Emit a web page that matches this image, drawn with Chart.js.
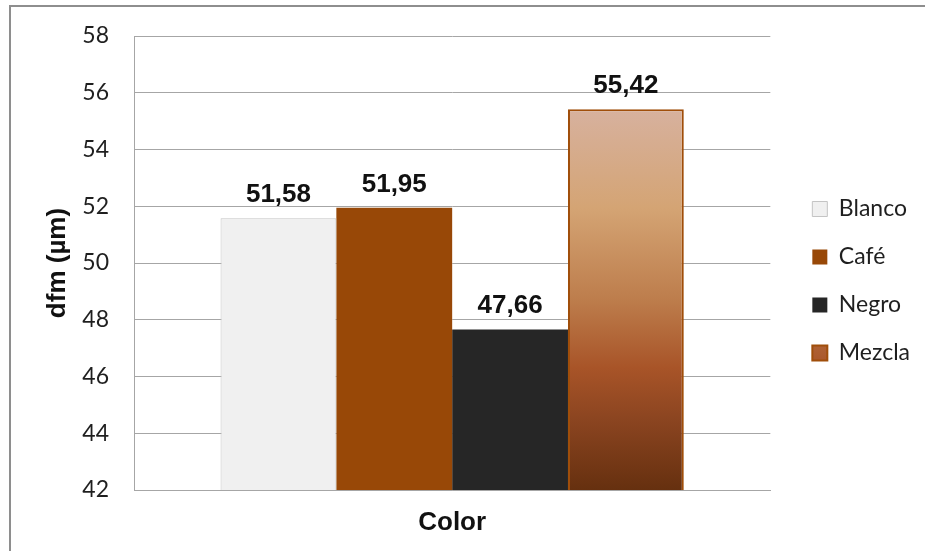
<!DOCTYPE html>
<html lang="es">
<head>
<meta charset="utf-8">
<title>dfm por color</title>
<script src="https://cdn.jsdelivr.net/npm/chart.js@4.4.1/dist/chart.umd.min.js"></script>
<style>
  html, body { margin: 0; padding: 0; background: #fff; overflow: hidden; }
  #wrap { position: relative; width: 925px; height: 551px; }
  #frame {
    position: absolute; left: 9px; top: 5px; width: 1000px; height: 700px;
    border-left: 2px solid #8e8e8e; border-top: 2px solid #8e8e8e;
    pointer-events: none;
  }
</style>
</head>
<body>
<div id="wrap">
  <canvas id="chart"></canvas>
  <div id="frame"></div>
</div>
<script>
// Datos
const categories = ["Color"];
const seriesNames = ["Blanco", "Café", "Negro", "Mezcla"];
const seriesValues = [51.58, 51.95, 47.66, 55.42];
const yTicks = [42, 44, 46, 48, 50, 52, 54, 56, 58];

const gridColor = "#a6a6a6";
const textColor = "#1f1f1f";

// Degradado de la barra "Mezcla" (de arriba hacia abajo)
const mezclaStops = [
  [0, "#d7b19e"],
  [0.26, "#d4a474"],
  [0.5, "#bd7d4c"],
  [0.68, "#a85428"],
  [0.82, "#8a4420"],
  [1, "#66300f"],
];

function mezclaFill(context) {
  const chart = context.chart;
  const area = chart.chartArea;
  if (!area || !chart.scales.y) return "#b8703c";
  const top = chart.scales.y.getPixelForValue(seriesValues[3]);
  const g = chart.ctx.createLinearGradient(0, top, 0, area.bottom);
  mezclaStops.forEach((s) => g.addColorStop(s[0], s[1]));
  return g;
}

const fills = ["#f0f0f0", "#984807", "#262626", mezclaFill];
const borders = ["#c4c4c4", "#984807", "#262626", "#a04e0a"];
const borderWidths = [1, 0, 0, 2];

// Etiquetas de valor sobre cada barra
const valueLabels = {
  id: "valueLabels",
  afterDatasetsDraw: (chart) => {
    const ctx = chart.ctx;
    ctx.save();
    ctx.font = "bold 26px 'Liberation Sans', Arial, sans-serif";
    ctx.fillStyle = "#111";
    ctx.textAlign = "center";
    ctx.textBaseline = "alphabetic";
    chart.data.datasets.forEach((ds, i) => {
      const meta = chart.getDatasetMeta(i);
      meta.data.forEach((bar, j) => {
        const txt = ds.data[j].toFixed(2).replace(".", ",");
        ctx.fillText(txt, bar.x, bar.y - 16);
      });
    });
    ctx.restore();
  },
};

new Chart(document.getElementById("chart"), {
  type: "bar",
  data: {
    labels: categories,
    datasets: seriesNames.map((name, i) => ({
      label: name,
      data: [seriesValues[i]],
      backgroundColor: fills[i],
      borderColor: borders[i],
      borderWidth: borderWidths[i],
      categoryPercentage: 0.728,
      barPercentage: 1,
    })),
  },
  options: {
    responsive: true,
    maintainAspectRatio: false,
    animation: false,
    layout: {
      padding: { left: 10, top: 36, right: 5, bottom: 25 },
    },
    plugins: {
      tooltip: { enabled: false },
      legend: {
        position: "right",
        labels: {
          boxWidth: 15,
          boxHeight: 15,
          padding: 25,
          color: textColor,
          font: { family: "Lato", size: 23 },
        },
      },
    },
    scales: {
      x: {
        grid: { display: false },
        border: { display: true, color: gridColor, width: 1 },
        ticks: { display: false },
        title: {
          display: true,
          text: "Color",
          color: "#111",
          font: { family: "'Liberation Sans', Arial, sans-serif", size: 26, weight: "bold" },
          padding: { top: 0, bottom: -12 },
        },
        afterFit: (scale) => {
          scale.height = 36;
        },
      },
      y: {
        min: 42,
        max: 58,
        afterBuildTicks: (scale) => {
          scale.ticks = yTicks.map((v) => ({ value: v }));
        },
        grid: { color: gridColor, lineWidth: 1, drawTicks: false },
        border: { display: true, color: gridColor, width: 1 },
        ticks: {
          padding: 25,
          color: textColor,
          font: { family: "Lato", size: 23 },
        },
        title: {
          display: true,
          text: "dfm (µm)",
          color: "#111",
          font: { family: "'Liberation Sans', Arial, sans-serif", size: 26, weight: "bold" },
          padding: { top: 32, bottom: 0 },
        },
        afterFit: (scale) => {
          scale.width = 124;
          scale.paddingTop = 0;
          scale.paddingBottom = 0;
        },
      },
      // eje vacío a la derecha: deja el hueco entre el gráfico y la leyenda
      gap: {
        position: "right",
        display: true,
        grid: { display: false },
        border: { display: false },
        ticks: { display: false },
        afterFit: (scale) => {
          scale.width = 17;
        },
      },
    },
  },
  plugins: [valueLabels],
});
</script>
</body>
</html>
